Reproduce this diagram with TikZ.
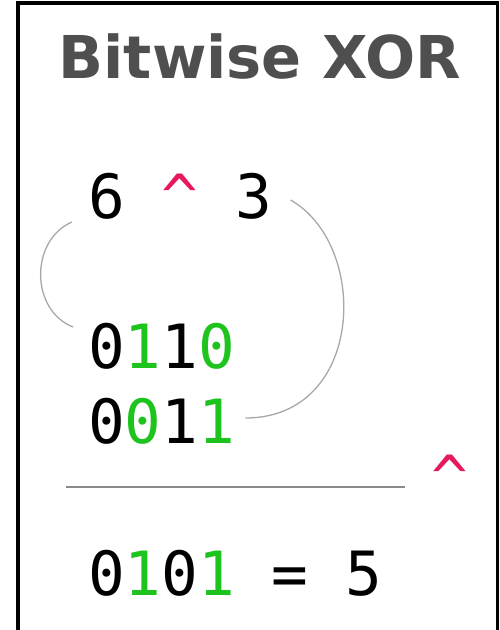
\documentclass[tikz,border=0pt]{standalone}
\usepackage{fontspec}
\newfontfamily\titlefont{DejaVu Sans}
\newfontfamily\monofont{DejaVu Sans Mono}
\definecolor{titlegray}{HTML}{4F4F4F}
\definecolor{bitgreen}{HTML}{1EC31E}
\definecolor{opred}{HTML}{E6195F}
\definecolor{arcgray}{HTML}{A8A8A8}
\definecolor{rulegray}{HTML}{8A8A8A}
\tikzset{
  titletext/.style={inner sep=0pt, anchor=base, text=titlegray, font=\titlefont\bfseries\fontsize{59}{70}\selectfont},
  monotext/.style={inner sep=0pt, anchor=base west, font=\monofont\fontsize{61}{72}\selectfont},
  linkarc/.style={draw=arcgray, line width=1.3pt},
  rulestyle/.style={draw=rulegray, line width=1.6pt},
  framestyle/.style={draw=black, line width=3.2pt}
}
\newcommand{\gbit}[1]{\textcolor{bitgreen}{#1}}
\newcommand{\opx}{\textcolor{opred}{\char`\^}}
\begin{document}
\begin{tikzpicture}[x=1pt,y=-1pt]
\useasboundingbox (0,0) rectangle (500,630);
\draw[framestyle] (18,650) -- (18,3) -- (497.5,3) -- (497.5,650);
\node[titletext] (title) at (260,78) {Bitwise XOR};
\node[monotext] (expr) at (88,218) {6 \opx{} 3};
\node[monotext] (bin6) at (88,368) {0\gbit{1}1\gbit{0}};
\node[monotext] (bin3) at (88,443) {0\gbit{0}1\gbit{1}};
\node[monotext] (res) at (88,595) {0\gbit{1}0\gbit{1} = 5};
\node[monotext] (op2) at (431,499) {\opx};
\coordinate (ruleL) at (66,487);
\coordinate (ruleR) at (405,487);
\draw[rulestyle] (ruleL) -- (ruleR);
\draw[linkarc] ([shift={(-16,4)}]expr.base west) .. controls (30,240) and (30,310) .. ([shift={(-15,-41)}]bin6.base west);
\draw[linkarc] ([shift={(18.5,-18)}]expr.base east) .. controls (370,245) and (365,418) .. ([shift={(10,-25)}]bin3.base east);
\end{tikzpicture}
\end{document}
